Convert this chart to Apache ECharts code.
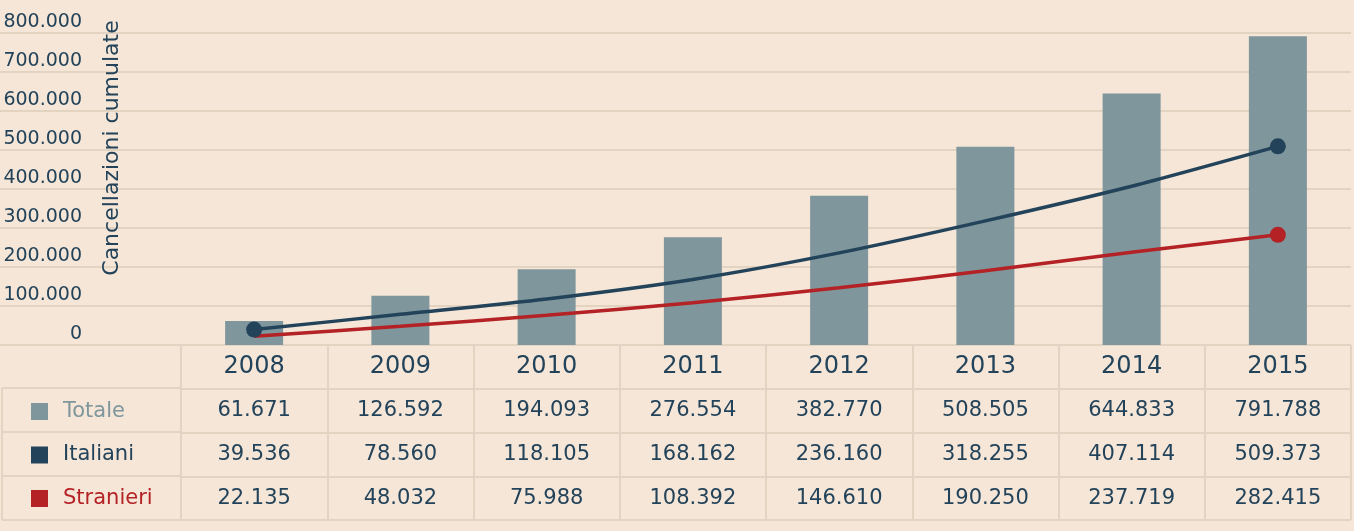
<!DOCTYPE html>
<html>
<head>
<meta charset="utf-8">
<script src="https://cdn.jsdelivr.net/npm/echarts@6/dist/echarts.min.js"></script>
<style>
  html, body { margin: 0; padding: 0; background: #f5e6d7; }
  #chart { width: 1354px; height: 531px; }
</style>
</head>
<body>
<div id="chart"></div>
<script>
const years = ['2008', '2009', '2010', '2011', '2012', '2013', '2014', '2015']
const totale = [61671, 126592, 194093, 276554, 382770, 508505, 644833, 791788]
const italiani = [39536, 78560, 118105, 168162, 236160, 318255, 407114, 509373]
const stranieri = [22135, 48032, 75988, 108392, 146610, 190250, 237719, 282415]
const rows = ['', 'Totale', 'Italiani', 'Stranieri']
const rowValues = { Totale: totale, Italiani: italiani, Stranieri: stranieri }
const italianiMarkers = [0, 7]
const stranieriMarkers = [7]

const NAVY = '#23435a'
const RED = '#b42226'
const GREY = '#7e969c'
const LINE = '#e3d3c1'
const FONT = 'DejaVu Sans'

const fmt = v => String(v).replace(/\B(?=(\d{3})+(?!\d))/g, '.')

const withMarkers = (values, markers) => values.map((v, i) =>
    markers.includes(i) ? { value: v, symbol: 'circle', symbolSize: 16 } : { value: v, symbol: 'none' })

// celle della tabella
const cells = []
rows.slice(1).forEach(r => {
    rowValues[r].forEach((v, i) => cells.push([i, r, v]))
})

const chart = echarts.init(document.getElementById('chart'))
chart.setOption({
    animation: false,
    backgroundColor: '#f5e6d7',
    textStyle: { fontFamily: FONT },
    grid: [
        { left: 0, right: 3, top: 33, bottom: 186 },     // griglia asse y
        { left: 181, right: 3, top: 33, bottom: 186 },   // barre e linee
        { left: 181, right: 3, top: 345, bottom: 11 },   // tabella
        { left: 2, right: 1173, top: 388, bottom: 11 }   // colonna legenda
    ],
    legend: {
        orient: 'vertical',
        left: 31,
        top: 401,
        padding: 0,
        itemWidth: 17,
        itemHeight: 17,
        itemGap: 22.5,
        icon: 'rect',
        selectedMode: false,
        textStyle: { fontSize: 21, fontFamily: FONT, padding: [0, 0, 0, 10] },
        data: [
            { name: 'Totale', textStyle: { color: GREY } },
            { name: 'Italiani', textStyle: { color: NAVY } },
            { name: 'Stranieri', textStyle: { color: RED } }
        ]
    },
    graphic: [{
        type: 'text',
        x: 112,
        y: 148,
        z: 100,
        rotation: Math.PI / 2,
        style: {
            text: 'Cancellazioni cumulate',
            fontSize: 22,
            fontFamily: FONT,
            fill: NAVY,
            align: 'center',
            verticalAlign: 'middle'
        }
    }],
    xAxis: [
        { gridIndex: 0, type: 'value', show: false },
        {
            gridIndex: 1,
            type: 'category',
            data: years,
            axisLine: { show: false },
            axisTick: { show: false },
            axisLabel: { color: NAVY, fontSize: 24, margin: 10, fontFamily: FONT }
        },
        {
            gridIndex: 2,
            type: 'category',
            data: years,
            axisLine: { show: false },
            axisTick: { show: false },
            axisLabel: { show: false },
            splitLine: { show: true, lineStyle: { color: LINE, width: 2 } }
        },
        {
            gridIndex: 3,
            type: 'value',
            min: 0,
            max: 1,
            interval: 1,
            axisLine: { show: false },
            axisTick: { show: false },
            axisLabel: { show: false },
            splitLine: { show: true, lineStyle: { color: LINE, width: 2 } }
        }
    ],
    yAxis: [
        {
            gridIndex: 0,
            type: 'value',
            min: 0,
            max: 800000,
            interval: 100000,
            axisLine: { show: false },
            axisTick: { show: false },
            axisLabel: {
                inside: true,
                margin: 82,
                align: 'right',
                verticalAlign: 'bottom',
                padding: [0, 0, 1, 0],
                color: NAVY,
                fontSize: 19,
                fontFamily: FONT,
                formatter: v => fmt(v)
            },
            splitLine: { lineStyle: { color: LINE, width: 2 } }
        },
        { gridIndex: 1, type: 'value', min: 0, max: 800000, show: false },
        {
            gridIndex: 2,
            type: 'category',
            data: rows,
            inverse: true,
            axisLine: { show: false },
            axisTick: { show: false },
            axisLabel: { show: false },
            splitLine: { show: true, lineStyle: { color: LINE, width: 2 } }
        },
        {
            gridIndex: 3,
            type: 'category',
            data: rows.slice(1),
            inverse: true,
            axisLine: { show: false },
            axisTick: { show: false },
            axisLabel: { show: false },
            splitLine: { show: true, lineStyle: { color: LINE, width: 2 } }
        }
    ],
    series: [
        {
            name: 'Totale',
            type: 'bar',
            xAxisIndex: 1,
            yAxisIndex: 1,
            data: totale,
            barWidth: 58,
            itemStyle: { color: GREY }
        },
        {
            name: 'Italiani',
            type: 'line',
            xAxisIndex: 1,
            yAxisIndex: 1,
            smooth: 0.25,
            data: withMarkers(italiani, italianiMarkers),
            itemStyle: { color: NAVY },
            lineStyle: { color: NAVY, width: 3.5 }
        },
        {
            name: 'Stranieri',
            type: 'line',
            xAxisIndex: 1,
            yAxisIndex: 1,
            smooth: 0.25,
            data: withMarkers(stranieri, stranieriMarkers),
            itemStyle: { color: RED },
            lineStyle: { color: RED, width: 3.5 }
        },
        {
            name: 'tabella',
            type: 'scatter',
            xAxisIndex: 2,
            yAxisIndex: 2,
            data: cells,
            symbolSize: 1,
            itemStyle: { color: 'rgba(0,0,0,0)', opacity: 1 },
            label: {
                show: true,
                position: 'inside',
                color: NAVY,
                textBorderWidth: 0,
                textBorderColor: 'transparent',
                fontSize: 21,
                fontFamily: FONT,
                formatter: p => fmt(p.value[2])
            },
            silent: true
        }
    ]
})

window.addEventListener('resize', () => chart.resize())
</script>
</body>
</html>
